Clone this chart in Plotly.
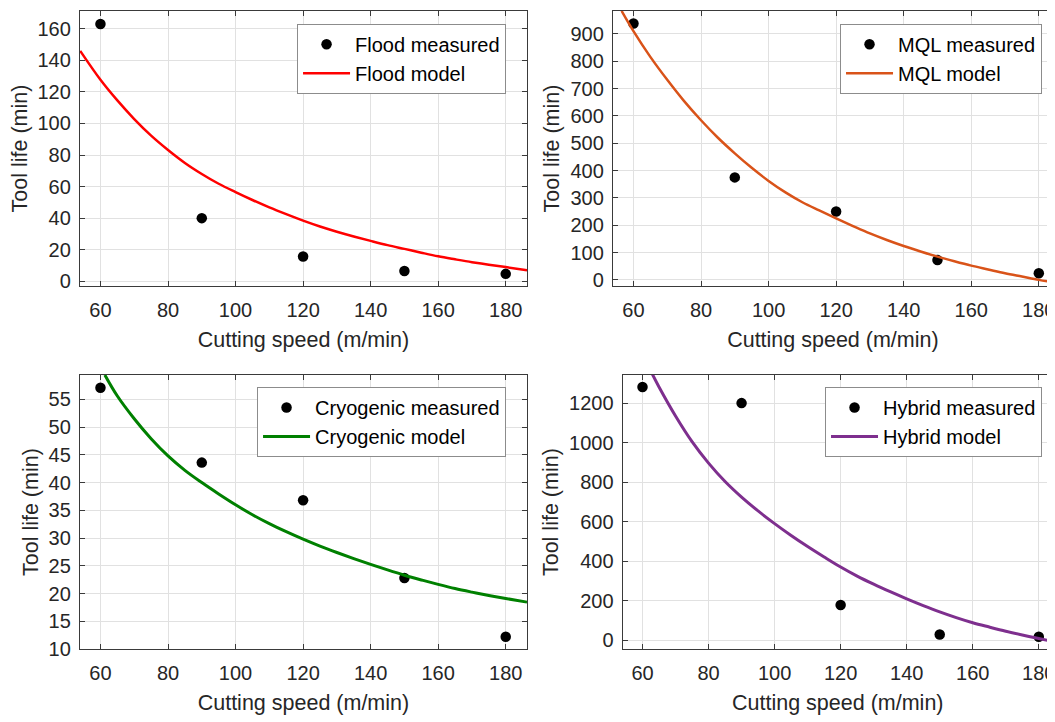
import plotly.graph_objects as go

# ---------------- data ----------------
speed = [60, 90, 120, 150, 180]

flood_measured = [163, 40, 15.7, 6.5, 4.7]
mql_measured = [938, 375, 250, 73, 24]
cryo_measured = [57.1, 43.6, 36.8, 22.8, 12.2]
hybrid_measured = [1282, 1200, 178, 28, 17]

flood_model_speed = [54, 60, 65, 70, 75, 80, 85, 90, 95, 100, 105, 110, 115, 120, 125, 130,
                     135, 140, 145, 150, 155, 160, 165, 170, 175, 180, 186.3]
flood_model_life = [146.0, 127.7, 114.6, 102.8, 92.3, 83.2, 75.0, 68.0, 61.8, 56.5, 51.5, 46.8,
                    42.5, 38.4, 34.7, 31.4, 28.4, 25.6, 22.9, 20.5, 18.1, 15.8, 13.9, 12.1, 10.5,
                    9.0, 7.0]

mql_model_speed = [56.5, 60, 65, 70, 75, 80, 85, 90, 95, 100, 105, 110, 115, 120, 125, 130,
                   135, 140, 145, 150, 155, 160, 165, 170, 175, 180, 184.2]
mql_model_life = [984, 910, 816, 732, 654, 584, 520, 463, 410, 362, 320, 284, 254, 225, 197,
                  170, 146, 124, 104, 85, 68, 52, 38, 24, 12, 0, -9]

cryo_model_speed = [61.3, 65, 70, 75, 80, 85, 90, 95, 100, 105, 110, 115, 120, 125, 130, 135,
                    140, 145, 150, 155, 160, 165, 170, 175, 180, 186.3]
cryo_model_life = [59.4, 55.6, 51.5, 47.9, 44.8, 42.2, 40.0, 37.95, 36.0, 34.2, 32.6, 31.15,
                   29.8, 28.55, 27.4, 26.3, 25.25, 24.25, 23.3, 22.45, 21.65, 20.9, 20.25,
                   19.65, 19.1, 18.45]

hybrid_model_speed = [63, 65, 70, 75, 80, 85, 90, 95, 100, 105, 110, 115, 120, 125, 130, 135,
                      140, 145, 150, 155, 160, 165, 170, 175, 180, 184.3]
hybrid_model_life = [1346, 1282, 1135, 1005, 896, 803, 724, 654, 590, 530, 474, 421, 370, 324,
                     283, 245, 209, 175, 143, 114, 88, 66, 45, 26, 8, -7]

x_ticks = [60, 80, 100, 120, 140, 160, 180]
flood_yticks = [0, 20, 40, 60, 80, 100, 120, 140, 160]
mql_yticks = [0, 100, 200, 300, 400, 500, 600, 700, 800, 900]
cryo_yticks = [10, 15, 20, 25, 30, 35, 40, 45, 50, 55]
hybrid_yticks = [0, 200, 400, 600, 800, 1000, 1200]

x_title = "Cutting speed (m/min)"
y_title = "Tool life (min)"

# ---------------- figure ----------------
# the page body keeps its default 8 px margin, so the figure is sized to fill
# the rest of the window and every position below is given in window pixels.
OFF = 8
W, H = 1055 - OFF, 722 - OFF
FONT = "'Liberation Sans', Arial, sans-serif"
TXT = "#262626"

fig = go.Figure()

panels = [
    # name, measured, model x, model y, color, width, xaxis, yaxis, legend
    ("Flood", flood_measured, flood_model_speed, flood_model_life, "#FF0000", 2.5, "x", "y", "legend"),
    ("MQL", mql_measured, mql_model_speed, mql_model_life, "#D95319", 2.5, "x2", "y2", "legend2"),
    ("Cryogenic", cryo_measured, cryo_model_speed, cryo_model_life, "#008000", 3, "x3", "y3", "legend3"),
    ("Hybrid", hybrid_measured, hybrid_model_speed, hybrid_model_life, "#7E2F8E", 3, "x4", "y4", "legend4"),
]

for name, meas, mx, my, col, lw, xa, ya, lg in panels:
    fig.add_trace(go.Scatter(
        x=speed, y=meas, mode="markers", name=f"{name} measured",
        marker=dict(color="black", size=10.5, symbol="circle"),
        xaxis=xa, yaxis=ya, legend=lg, cliponaxis=True))
    fig.add_trace(go.Scatter(
        x=mx, y=my, mode="lines", name=f"{name} model",
        line=dict(color=col, width=lw, shape="spline", smoothing=1.0),
        xaxis=xa, yaxis=ya, legend=lg, cliponaxis=True))


def px_x(a, b):
    return [max(0, (a - OFF) / W), min(1, (b - OFF) / W)]


def px_y(top, bottom):
    return [1 - (bottom - OFF) / H, 1 - (top - OFF) / H]


axis_common = dict(
    showline=True, linecolor="#3A3A3A", linewidth=1,
    ticks="inside", ticklen=5, tickcolor="#3A3A3A", tickwidth=1,
    showgrid=True, gridcolor="#E1E1E1", gridwidth=1,
    zeroline=False, ticklabeloverflow="allow",
    tickfont=dict(family=FONT, size=20, color=TXT),
)


def xax(domain, rng, anchor):
    return dict(axis_common, domain=domain, range=rng, anchor=anchor, mirror="ticks",
                tickvals=x_ticks, ticklabelstandoff=6,
                title=dict(text=x_title, font=dict(family=FONT, size=21.5, color=TXT), standoff=11))


def yax(domain, rng, anchor, ticks, mirror="ticks"):
    return dict(axis_common, domain=domain, range=rng, anchor=anchor, mirror=mirror,
                tickvals=ticks, ticklabelstandoff=4,
                title=dict(text=y_title, font=dict(family=FONT, size=21.5, color=TXT), standoff=4))


fig.update_layout(
    width=W, height=H,
    margin=dict(l=0, r=0, t=0, b=0),
    paper_bgcolor="white", plot_bgcolor="white",
    font=dict(family=FONT, color=TXT),
    xaxis=xax(px_x(80, 528), [53.9, 186.3], "y"),
    yaxis=yax(px_y(11, 290.5), [-3.1, 171.3], "x", flood_yticks),
    xaxis2=xax(px_x(614, 1055), [53.9, 184.2], "y2"),
    yaxis2=yax(px_y(11, 290.5), [-23, 984], "x2", mql_yticks, mirror=False),
    xaxis3=xax(px_x(80, 528), [53.9, 186.3], "y3"),
    yaxis3=yax(px_y(380.7, 659.3), [9.95, 59.4], "x3", cryo_yticks),
    xaxis4=xax(px_x(623.7, 1055), [53.95, 184.3], "y4"),
    yaxis4=yax(px_y(380.7, 659.3), [-46.4, 1342.6], "x4", hybrid_yticks, mirror=False),
)

legend_common = dict(
    bgcolor="white", bordercolor="#8C8C8C", borderwidth=1,
    font=dict(family=FONT, size=20, color="black"),
    xanchor="right", yanchor="top", tracegroupgap=0, itemwidth=47,
)
fig.update_layout(
    legend=dict(legend_common, x=(507 - OFF) / W, y=1 - (24 - OFF) / H),
    legend2=dict(legend_common, x=(1044 - OFF) / W, y=1 - (24 - OFF) / H),
    legend3=dict(legend_common, x=(507 - OFF) / W, y=1 - (393 - OFF) / H),
    legend4=dict(legend_common, x=(1044 - OFF) / W, y=1 - (393 - OFF) / H),
)

fig.write_html("out.html")
